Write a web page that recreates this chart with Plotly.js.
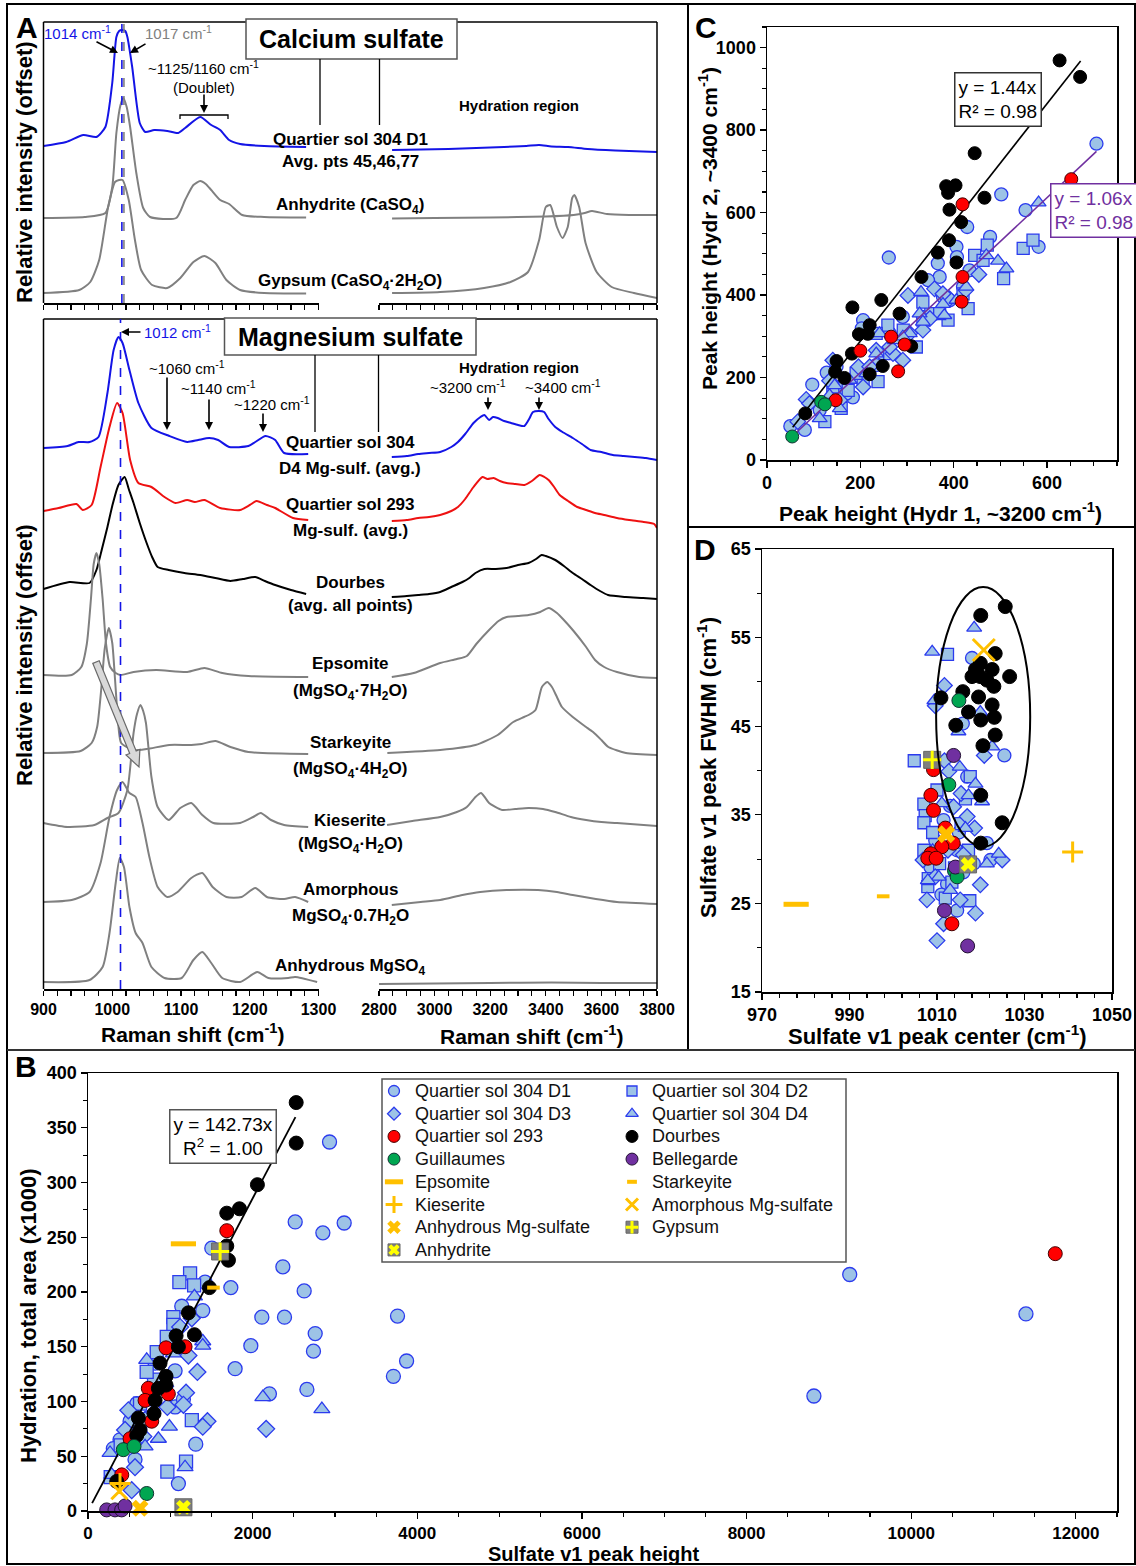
<!DOCTYPE html>
<html><head><meta charset="utf-8">
<script src="https://cdn.plot.ly/plotly-3.0.1.min.js"></script>
<style>html,body{margin:0;padding:0;background:#fff}</style>
</head><body>
<div id="chart" style="width:1136px;height:1566px"></div>
<script>
// ===================== DATA =====================
// Panel A (top): Calcium sulfate spectra [wavenumber, offset intensity]
const caD1_L=[[900,157],[933,161],[958,168],[977,166],[990,176],[1000,220],[1006,266],[1010,272],[1014,273],[1019,272],[1022,266],[1029,236],[1040,180],[1048,171],[1061,173],[1080,172],[1096,170],[1106,175],[1128,186],[1144,178],[1157,173],[1170,163],[1186,159],[1221,157],[1282,156]];
const caD1_R=[[2847,153],[2950,153.5],[3050,154],[3150,155],[3250,156],[3330,157],[3376,158],[3420,156.5],[3480,156],[3550,154],[3650,152.5],[3800,151]];
const caAnh_L=[[900,85],[960,86],[990,90],[1000,116],[1006,170],[1012,198],[1016,205],[1021,196],[1026,176],[1035,130],[1045,95],[1055,86],[1093,85],[1106,103],[1118,118],[1128,122],[1136,119],[1144,113],[1157,103],[1170,99],[1189,88],[1221,86],[1282,85.5]];
const caAnh_R=[[2847,84.5],[3000,85],[3200,85.5],[3400,86.5],[3500,88],[3540,90],[3566,92],[3620,89],[3700,88],[3800,88]];
const caGyp_L=[[900,10],[952,13],[968,21],[981,43],[994,96],[1004,121],[1010,123],[1015,123],[1024,103],[1033,63],[1042,33],[1058,18],[1080,15],[1099,25],[1118,41],[1134,47],[1150,40],[1166,23],[1186,13],[1221,10],[1282,9.5]];
const caGyp_R=[[2847,10],[3020,11],[3178,15],[3273,21],[3336,31],[3376,63],[3400,96],[3416,98],[3440,76],[3460,65],[3479,76],[3495,105],[3503,108],[3520,96],[3543,60],[3583,31],[3637,16],[3717,10],[3800,5]];
// Panel A (bottom): Magnesium sulfate spectra
const mgD4_L=[[900,541],[935,543],[951,547],[967,547],[980,552],[993,596],[1002,639],[1009,652],[1015,646],[1025,619],[1038,586],[1057,561],[1083,553],[1109,547],[1125,549],[1141,551],[1154,549],[1170,542],[1198,543],[1208,547],[1223,553],[1237,549],[1250,536],[1285,535]];
const mgD4_R=[[2846,532],[2900,533],[2941,535],[2980,536],[3020,537],[3060,542],[3084,547],[3110,555],[3140,566],[3165,572],[3179,574],[3196,569],[3210,572],[3227,571],[3250,568],[3275,566],[3300,564],[3323,563],[3340,570],[3354,577],[3375,578],[3394,577],[3410,570],[3434,562],[3460,557],[3497,551],[3530,545],[3561,539],[3600,537],[3641,534],[3680,533],[3720,532],[3760,531],[3800,529]];
const mg293_L=[[900,478],[922,481],[948,485],[957,479],[970,484],[983,522],[996,562],[1007,586],[1015,576],[1026,529],[1038,506],[1057,502],[1076,492],[1092,486],[1109,489],[1120,487],[1134,489],[1157,481],[1186,479],[1200,484],[1210,488],[1225,484],[1237,481],[1263,471],[1285,469]];
const mg293_R=[[2846,468],[2900,469],[2941,471],[2980,472],[3020,474],[3060,478],[3084,482],[3110,490],[3140,502],[3172,512],[3190,510],[3212,511],[3235,508],[3259,506],[3290,505],[3323,504],[3350,508],[3378,514],[3395,512],[3410,509],[3430,502],[3450,494],[3480,488],[3513,482],[3545,479],[3577,476],[3610,474],[3656,471],[3700,469],[3752,467],[3790,465],[3800,461]];
const mgDou_L=[[900,400],[938,407],[967,406],[977,419],[985,440],[993,462],[1000,483],[1009,504],[1018,512],[1024,500],[1031,486],[1040,466],[1050,446],[1058,432],[1066,422],[1082,419],[1105,416],[1128,414],[1150,411],[1172,408],[1190,410],[1208,412],[1222,408],[1237,404],[1260,399],[1282,395]];
const mgDou_R=[[2846,392],[2900,393],[2941,394],[2980,395],[3020,397],[3060,402],[3100,407],[3125,411],[3147,416],[3179,420],[3220,420],[3259,421],[3300,424],[3338,426],[3365,430],[3385,434],[3400,433],[3434,429],[3465,423],[3497,416],[3530,410],[3561,404],[3595,398],[3624,394],[3688,392],[3750,391],[3800,390]];
const mgEps_L=[[900,314],[941,314],[955,322],[963,345],[969,390],[973,425],[977,436],[981,425],[986,390],[991,345],[997,322],[1005,316],[1012,314],[1031,317],[1064,319],[1109,317],[1134,321],[1160,316],[1198,313],[1285,312]];
const mgEps_R=[[2846,312],[2925,316],[3020,326],[3080,330],[3116,333],[3150,345],[3196,359],[3230,368],[3259,372],[3300,373],[3338,374],[3380,377],[3410,381],[3440,376],[3465,369],[3500,358],[3545,342],[3577,329],[3610,322],[3656,317],[3736,312],[3800,311]];
const mgStk_L=[[900,236],[954,238],[970,246],[978,262],[984,300],[989,340],[995,361],[1000,346],[1004,310],[1008,272],[1013,246],[1031,239],[1050,240],[1083,244],[1115,244],[1130,245],[1150,248],[1172,242],[1198,237],[1285,235]];
const mgStk_R=[[2830,236],[3020,239],[3147,244],[3227,254],[3283,267],[3322,272],[3338,274],[3363,279],[3386,302],[3405,307],[3422,302],[3440,292],[3458,282],[3497,272],[3530,265],[3545,262],[3570,257],[3600,249],[3625,242],[3688,236],[3800,234]];
const mgKie_L=[[900,166],[935,162],[974,164],[993,171],[1009,176],[1022,199],[1031,256],[1036,275],[1041,284],[1045,278],[1049,266],[1057,212],[1066,182],[1082,169],[1099,181],[1115,186],[1131,174],[1147,166],[1186,166],[1205,172],[1216,176],[1231,169],[1250,164],[1285,162]];
const mgKie_R=[[2829,164],[2920,168],[3020,172],[3080,177],[3116,182],[3147,192],[3167,196],[3180,192],[3196,186],[3243,179],[3290,180],[3338,181],[3390,180],[3434,177],[3490,172],[3545,169],[3600,167],[3656,166],[3800,163]];
const mgAmo_L=[[900,87],[941,89],[967,97],[983,126],[996,172],[1007,199],[1015,207],[1025,196],[1034,192],[1044,166],[1054,132],[1066,102],[1080,92],[1095,97],[1115,111],[1131,116],[1146,102],[1166,92],[1188,92],[1208,101],[1225,92],[1250,90],[1266,92],[1285,87]];
const mgAmo_R=[[2846,84],[2950,87],[3020,89],[3100,94],[3164,97],[3259,99],[3372,99],[3440,97],[3497,94],[3580,90],[3656,87],[3800,85]];
const mgAnh_L=[[900,7],[967,9],[986,22],[996,56],[1005,106],[1011,131],[1017,122],[1025,82],[1034,56],[1044,46],[1057,22],[1076,11],[1101,11],[1118,29],[1131,37],[1144,26],[1160,11],[1186,7],[1211,17],[1227,11],[1256,11],[1266,12],[1298,7]];
const mgAnh_R=[[2800,5],[3000,5.5],[3200,6],[3420,6.5],[3600,6],[3800,6]];

// Panel C: Hydr1 peak height (x) vs Hydr2 peak height (y)
const C_D1_x=[706,502,554,582,429,261,478,366,406,370,345,407,206,203,128,97,184,50,81,163,263,334,377,249,149,234,113,170,291,391,420,434];
const C_D1_y=[767,644,606,517,565,491,541,477,517,444,436,492,339,319,212,183,152,82,73,177,307,347,396,258,226,230,121,161,347,387,420,460];
const C_D2_x=[549,570,507,472,445,431,388,351,334,259,320,238,206,159,124,263,292,174,141,191,234,334,370,420,463];
const C_D2_y=[513,533,440,521,496,367,339,355,383,327,274,190,194,125,93,258,315,169,177,210,307,339,355,403,484];
const C_D3_x=[454,426,359,302,141,84,134,196,270,334,391,66,234,291,206,377,91,156,220,263,306,349];
const C_D3_y=[450,412,415,399,242,147,192,226,258,315,391,93,266,242,177,403,137,145,226,274,307,343];
const C_D4_x=[582,495,513,470,377,330,327,241,145,113,156,306,274,380,213,134,177,234,291,334,406,427];
const C_D4_y=[624,483,464,496,378,407,355,307,181,101,125,307,290,351,210,157,194,258,299,335,388,420];
const C_Dou_x=[627,671,445,384,404,388,466,391,416,390,366,406,331,245,183,284,220,197,216,309,182,149,248,146,166,220,82];
const C_Dou_y=[969,929,744,664,666,648,636,607,577,533,503,479,444,388,370,355,327,305,306,276,258,240,228,214,199,208,113];
const C_Q293_x=[652,419,419,417,266,295,200,281,147];
const C_Q293_y=[681,620,444,384,299,280,265,215,145];
const C_Gui_x=[116,124,54];
const C_Gui_y=[141,135,57];
const C_fitSlopes=[1.44,1.06];
const C_fitRanges=[[55,672],[55,706]];

// Panel D: sulfate v1 peak center (x) vs FWHM (y)
const D_D1_x=[1018.0,1015.9,1025.4,1021.4,1022.2,1014.6,1011.5,1014.6,1016.9,1008.5,1012.3,1018.4,1009.6,1013.0,1015.0,1011.0,1016.0];
const D_D1_y=[52.7,45.3,41.7,31.8,29.9,24.2,34.4,31.0,39.3,29.1,27.2,29.5,32.1,36.0,33.0,26.0,28.5];
const D_D2_x=[1012.4,1004.8,1007.0,1007.3,1007.0,1007.0,1007.9,1017.6,1017.5,1010.6,1013.4,1011.9,1015.5,1010.0,1017.2,1009.0,1014.0,1008.0,1016.5];
const D_D2_y=[53.1,41.1,36.2,34.9,34.1,31.0,26.9,39.3,25.3,29.5,27.4,25.6,34.0,37.8,31.0,33.0,29.0,27.8,36.8];
const D_D3_x=[1011.7,1009.6,1020.8,1011.7,1012.7,1015.5,1016.9,1018.6,1019.9,1018.8,1010.0,1011.5,1007.7,1006.8,1024.9,1015.3,1013.8,1009.6,1012.5,1016.0];
const D_D3_y=[49.6,47.3,41.7,41.1,39.9,37.4,34.8,33.5,27.1,23.9,20.8,22.7,25.4,29.9,29.9,25.4,35.9,28.0,31.0,30.5];
const D_D4_x=[1008.9,1018.5,1009.4,1014.9,1019.9,1022.6,1015.2,1018.8,1017.2,1020.3,1024.1,1021.4,1010.4,1013.0,1007.9,1014.2,1011.1,1016.5,1009.0];
const D_D4_y=[53.4,56.1,47.9,44.4,46.6,42.7,40.4,38.5,37.2,36.5,30.6,29.5,28.0,26.5,27.6,31.6,36.3,33.5,31.0];
const D_Dou_x=[1025.6,1020.0,1023.3,1026.6,1018.8,1019.9,1022.6,1021.4,1018.0,1019.9,1023.0,1015.9,1019.5,1010.9,1017.2,1022.6,1020.0,1023.1,1014.3,1023.3,1020.5,1020.0,1024.9,1020.0];
const D_Dou_y=[58.5,57.5,53.2,50.6,51.4,50.6,51.4,50.2,50.6,52.1,49.5,48.9,48.3,48.2,46.6,47.4,45.7,46.0,45.1,44.0,42.8,37.2,34.1,31.8];
const D_Q293_x=[1009.2,1008.6,1009.2,1011.9,1013.7,1011.1,1008.6,1007.9,1009.8,1013.4];
const D_Q293_y=[40.1,37.2,35.5,33.5,31.8,31.4,30.6,30.1,30.1,22.7];
const D_Gui_x=[1015.0,1012.7,1014.0,1014.6];
const D_Gui_y=[47.9,38.4,28.7,28.0];
const D_Bel_x=[1013.8,1011.7,1014.2,1017.0];
const D_Bel_y=[41.7,24.2,29.1,20.2];
// reference minerals in D: [center, FWHM]
const D_ref={EPS:[977.8,24.9],STK:[997.7,25.8],KIE:[1041.0,30.8],AMO:[1020.7,53.6],ANH:[1012.1,32.8],GYP:[1008.9,41.2],ANY:[1017.1,29.4]};
const D_ellipse=[1009.8,1031.3,31.4,60.7];

// Panel B: sulfate v1 peak height (x) vs hydration total area x1000 (y)
const B_D1_x=[2934,2517,2853,3112,2367,2626,1735,2112,2387,1978,2760,2739,1787,2659,2204,3760,3710,3870,1504,1422,1394,1139,1058,1058,1309,1098,592,511,389,308,571,815,896,1159,733,9253,8818,11394];
const B_D1_y=[337,264,254,263,223,201,204,177,177,151,162,146,130,111,107,178,123,137,240,209,183,187,128,95,61,25,98,82,65,57,47,135,115,102,85,216,105,180];
const B_D2_x=[1240,1110,1289,1037,1037,957,835,802,632,1261,1191,964,397,276,632,754,713];
const B_D2_y=[217,209,206,177,170,159,145,120,98,83,45,36,60,31,75,102,127];
const B_D3_x=[1220,1329,1191,1159,964,1451,1394,2164,531,450,571,693,936,1119,1261,490,672];
const B_D3_y=[142,127,108,97,95,82,77,75,19,74,40,83,114,168,176,92,68];
const B_D4_x=[1293,1394,1394,2124,2841,989,855,1179,693,268,713,1037,288];
const B_D4_y=[196,155,151,104,93,77,66,40,59,53,138,144,33];
const B_Dou_x=[2529,2529,2058,1686,1840,1686,1706,1475,1220,1293,1070,1098,875,948,948,855,815,802,612,632,592,349];
const B_Dou_y=[373,336,298,272,276,242,229,204,181,161,160,150,135,123,115,112,101,89,85,74,69,27];
const B_Q293_x=[1686,948,1179,733,693,976,774,511,410,11750];
const B_Q293_y=[256,149,150,112,101,107,82,66,33,235];
const B_Gui_x=[429,559,713];
const B_Gui_y=[56,59,16];
const B_Bel_x=[227,328,409,450];
const B_Bel_y=[1,1,1,4.6];
const B_ref={EPS:[1159,244],STK:[1524,204],KIE:[389,25],AMO:[381,18],ANH:[632,2.5],GYP:[1605,237],ANY:[1159,3.4]};
const B_fitSlope=0.14273;
const B_fitRange=[50,2520];

// ===================== DRAWING =====================
const W=1136,H=1566;
const px=x=>x/W, py=y=>1-y/H;
const FONT='Liberation Sans, Arial, Helvetica, sans-serif';
const BLUE='#1414E6', RED='#EE1111', GRAY='#808080', PURPLE='#7030A0', ORANGE='#FFC000';

const traces=[];
function spec(pts,xa,ya,color){
  traces.push({type:'scatter',mode:'lines',x:pts.map(p=>p[0]),y:pts.map(p=>p[1]),xaxis:xa,yaxis:ya,
    line:{color:color,width:2,shape:'spline',smoothing:0.6},hoverinfo:'skip',showlegend:false});
}
[[caD1_L,caD1_R,BLUE],[caAnh_L,caAnh_R,GRAY],[caGyp_L,caGyp_R,GRAY]].forEach(s=>{spec(s[0],'x','y',s[2]);spec(s[1],'x2','y',s[2]);});
[[mgD4_L,mgD4_R,BLUE],[mg293_L,mg293_R,RED],[mgDou_L,mgDou_R,'#000'],[mgEps_L,mgEps_R,GRAY],[mgStk_L,mgStk_R,GRAY],
 [mgKie_L,mgKie_R,GRAY],[mgAmo_L,mgAmo_R,GRAY],[mgAnh_L,mgAnh_R,GRAY]].forEach(s=>{spec(s[0],'x3','y3',s[2]);spec(s[1],'x4','y3',s[2]);});

const LB={color:'#2B3BEE',width:1.3};
const ST={
 D1:{symbol:'circle',color:'#9DC3E6',line:LB,s:13},
 D2:{symbol:'square',color:'#9DC3E6',line:LB,s:13},
 D3:{symbol:'diamond',color:'#9DC3E6',line:LB,s:13},
 D4:{symbol:'triangle-up',color:'#9DC3E6',line:LB,s:13},
 Q293:{symbol:'circle',color:'#FF0000',line:{color:'#400',width:1},s:14},
 Dou:{symbol:'circle',color:'#000',line:{color:'#000',width:1},s:14},
 Gui:{symbol:'circle',color:'#00A651',line:{color:'#133',width:1},s:14},
 Bel:{symbol:'circle',color:'#7030A0',line:{color:'#213',width:1},s:14},
 EPS:{symbol:'line-ew',color:ORANGE,line:{color:ORANGE,width:5},s:18},
 STK:{symbol:'line-ew',color:ORANGE,line:{color:ORANGE,width:4},s:9},
 KIE:{symbol:'cross-thin',color:ORANGE,line:{color:ORANGE,width:3},s:15},
 AMO:{symbol:'x-thin',color:ORANGE,line:{color:ORANGE,width:3},s:16},
 ANH:{symbol:'x',color:ORANGE,line:{color:ORANGE,width:0},s:15},
 GYPbg:{symbol:'square',color:'#7F7F7F',line:{color:'#666',width:1},s:17},
 GYP:{symbol:'cross-thin',color:'#FFFF00',line:{color:'#FFFF00',width:3},s:13},
 ANYbg:{symbol:'square',color:'#7F7F7F',line:{color:'#666',width:1},s:17},
 ANY:{symbol:'x',color:'#FFFF00',line:{color:'#FFFF00',width:0},s:13}
};
function mk(k,size){const s=ST[k];return {symbol:s.symbol,color:s.color,line:s.line,size:size||s.s};}
function sc(xs,ys,xa,ya,k,size){
  traces.push({type:'scatter',mode:'markers',x:xs,y:ys,xaxis:xa,yaxis:ya,marker:mk(k,size),
    hoverinfo:'skip',showlegend:false,cliponaxis:false});
}

// Panel C
sc(C_D1_x,C_D1_y,'x5','y5','D1',13); sc(C_D2_x,C_D2_y,'x5','y5','D2',12);
sc(C_D3_x,C_D3_y,'x5','y5','D3',12); sc(C_D4_x,C_D4_y,'x5','y5','D4',13);
C_fitSlopes.forEach((m,i)=>{
  traces.push({type:'scatter',mode:'lines',x:C_fitRanges[i],y:C_fitRanges[i].map(v=>v*m),xaxis:'x5',yaxis:'y5',
    line:{color:i===0?'#000':PURPLE,width:1.6},hoverinfo:'skip',showlegend:false});
});
sc(C_Dou_x,C_Dou_y,'x5','y5','Dou',13); sc(C_Q293_x,C_Q293_y,'x5','y5','Q293',13); sc(C_Gui_x,C_Gui_y,'x5','y5','Gui',13);

// Panel D
sc(D_D1_x,D_D1_y,'x6','y6','D1',13); sc(D_D2_x,D_D2_y,'x6','y6','D2',12);
sc(D_D3_x,D_D3_y,'x6','y6','D3',12); sc(D_D4_x,D_D4_y,'x6','y6','D4',13);
sc(D_Dou_x,D_Dou_y,'x6','y6','Dou',14); sc(D_Q293_x,D_Q293_y,'x6','y6','Q293',14);
sc(D_Gui_x,D_Gui_y,'x6','y6','Gui',14); sc(D_Bel_x,D_Bel_y,'x6','y6','Bel',14);
const refSizeD={EPS:18,STK:9,KIE:15,AMO:22,ANH:16,GYPbg:17,GYP:13,ANYbg:17,ANY:13};
['EPS','STK','KIE','AMO','ANH'].forEach(k=>sc([D_ref[k][0]],[D_ref[k][1]],'x6','y6',k,refSizeD[k]));
sc([D_ref.GYP[0]],[D_ref.GYP[1]],'x6','y6','GYPbg'); sc([D_ref.GYP[0]],[D_ref.GYP[1]],'x6','y6','GYP');
sc([D_ref.ANY[0]],[D_ref.ANY[1]],'x6','y6','ANYbg'); sc([D_ref.ANY[0]],[D_ref.ANY[1]],'x6','y6','ANY');

// Panel B
sc(B_D1_x,B_D1_y,'x7','y7','D1',14); sc(B_D2_x,B_D2_y,'x7','y7','D2',13);
sc(B_D3_x,B_D3_y,'x7','y7','D3',13); sc(B_D4_x,B_D4_y,'x7','y7','D4',14);
traces.push({type:'scatter',mode:'lines',x:B_fitRange,y:B_fitRange.map(v=>v*B_fitSlope),xaxis:'x7',yaxis:'y7',
  line:{color:'#000',width:1.8},hoverinfo:'skip',showlegend:false});
sc(B_Q293_x,B_Q293_y,'x7','y7','Q293',14); sc(B_Dou_x,B_Dou_y,'x7','y7','Dou',14);
sc(B_Gui_x,B_Gui_y,'x7','y7','Gui',14); sc(B_Bel_x,B_Bel_y,'x7','y7','Bel',14);
['EPS','STK','KIE','AMO','ANH'].forEach(k=>sc([B_ref[k][0]],[B_ref[k][1]],'x7','y7',k));
sc([B_ref.GYP[0]],[B_ref.GYP[1]],'x7','y7','GYPbg'); sc([B_ref.GYP[0]],[B_ref.GYP[1]],'x7','y7','GYP');
sc([B_ref.ANY[0]],[B_ref.ANY[1]],'x7','y7','ANYbg'); sc([B_ref.ANY[0]],[B_ref.ANY[1]],'x7','y7','ANY');

// Legend (panel B) drawn on a pixel overlay axis
const legendItems=[
 ['D1','Quartier sol 304 D1'],['D3','Quartier sol 304 D3'],['Q293','Quartier sol 293'],['Gui','Guillaumes'],
 ['EPS','Epsomite'],['KIE','Kieserite'],['ANH','Anhydrous Mg-sulfate'],['ANY','Anhydrite'],
 ['D2','Quartier sol 304 D2'],['D4','Quartier sol 304 D4'],['Dou','Dourbes'],['Bel','Bellegarde'],
 ['STK','Starkeyite'],['AMO','Amorphous Mg-sulfate'],['GYP','Gypsum']];
const legSize={D1:11,D2:10,D3:10,D4:11,Q293:12,Dou:12,Gui:12,Bel:12,EPS:13,STK:7,KIE:12,AMO:12,ANH:12,GYPbg:12,GYP:9,ANYbg:12,ANY:10};
const legAnn=[];
legendItems.forEach((it,i)=>{
  const col=i<8?0:1,row=i<8?i:i-8;
  const mx=col===0?394:632, ty=1091+row*22.7, tx=col===0?413:650;
  if(it[0]==='GYP'||it[0]==='ANY') sc([mx],[ty],'x8','y8',it[0]+'bg',legSize[it[0]+'bg']);
  sc([mx],[ty],'x8','y8',it[0],legSize[it[0]]);
  legAnn.push({xref:'paper',yref:'paper',x:px(tx),y:py(ty),text:it[1],showarrow:false,xanchor:'left',yanchor:'middle',
    font:{family:FONT,size:18,color:'#111'}});
});

// ---------- axes ----------
function ax(o){return Object.assign({showgrid:false,zeroline:false,showline:true,linecolor:'#000',linewidth:1.5,
  ticks:'outside',tickcolor:'#000',tickwidth:1.3,ticklen:6,fixedrange:true,exponentformat:'none',separatethousands:false,
  tickfont:{family:FONT,size:18,color:'#000',weight:'bold'}},o);}
function mn(t0,dt,len){return {tick0:t0,dtick:dt,ticks:'outside',ticklen:len||4,tickcolor:'#000',tickwidth:1.1,showgrid:false};}
const tfA={family:FONT,size:16,color:'#000',weight:'bold'};
const layout={
 width:W,height:H,margin:{l:0,r:0,t:0,b:0,pad:0},paper_bgcolor:'#fff',plot_bgcolor:'rgba(0,0,0,0)',showlegend:false,
 font:{family:FONT,color:'#000'},
 xaxis:ax({domain:[px(43.5),px(318.5)],range:[900,1300],anchor:'y',tick0:900,dtick:100,ticklen:5,showticklabels:false,minor:mn(900,20,5)}),
 xaxis2:ax({domain:[px(379),px(657)],range:[2800,3800],anchor:'y',tick0:2800,dtick:200,ticklen:5,showticklabels:false,minor:mn(2800,50,5)}),
 yaxis:{domain:[py(303),py(22)],range:[0,281],visible:false,fixedrange:true,anchor:'x'},
 xaxis3:ax({domain:[px(43.5),px(318.5)],range:[900,1300],anchor:'y3',tick0:900,dtick:100,ticklen:5,tickfont:tfA,minor:mn(900,20,5)}),
 xaxis4:ax({domain:[px(379),px(657)],range:[2800,3800],anchor:'y3',tick0:2800,dtick:200,ticklen:5,tickfont:tfA,minor:mn(2800,50,5)}),
 yaxis3:{domain:[py(989),py(319)],range:[0,670],visible:false,fixedrange:true,anchor:'x3'},
 xaxis5:ax({domain:[px(767),px(1117)],range:[0,750],anchor:'y5',tick0:0,dtick:200,mirror:true,minor:mn(0,50)}),
 yaxis5:ax({domain:[py(460),py(27)],range:[0,1050],anchor:'x5',tick0:0,dtick:200,mirror:true,minor:mn(0,50)}),
 xaxis6:ax({domain:[px(762),px(1112)],range:[970,1050],anchor:'y6',tick0:970,dtick:20,mirror:true,minor:mn(970,4)}),
 yaxis6:ax({domain:[py(992),py(549)],range:[15,65],anchor:'x6',tick0:15,dtick:10,mirror:true,minor:mn(15,5)}),
 xaxis7:ax({domain:[px(88),px(1117)],range:[0,12500],anchor:'y7',tick0:0,dtick:2000,mirror:true,minor:mn(0,500),tickformat:'d',
   tickfont:{family:FONT,size:17,color:'#000',weight:'bold'}}),
 yaxis7:ax({domain:[py(1511),py(1073)],range:[0,400],anchor:'x7',tick0:0,dtick:50,mirror:true,minor:mn(0,25)}),
 xaxis8:{domain:[0,1],range:[0,W],visible:false,fixedrange:true,anchor:'y8'},
 yaxis8:{domain:[0,1],range:[H,0],visible:false,fixedrange:true,anchor:'x8'}
};

// ---------- shapes ----------
function ln(x0,y0,x1,y1,c,w,d){return {type:'line',xref:'paper',yref:'paper',x0:px(x0),y0:py(y0),x1:px(x1),y1:py(y1),line:{color:c||'#000',width:w||1.5,dash:d||'solid'}};}
function rc(x0,y0,x1,y1,c,w,fill){return {type:'rect',xref:'paper',yref:'paper',x0:px(x0),y0:py(y0),x1:px(x1),y1:py(y1),line:{color:c||'#000',width:w||1.5},fillcolor:fill||'rgba(0,0,0,0)'};}
function fatArrow(t,h,sw,hw,hl){
  const dx=h[0]-t[0],dy=h[1]-t[1],L=Math.hypot(dx,dy),u=[dx/L,dy/L],n=[-u[1],u[0]];
  const b=[h[0]-u[0]*hl,h[1]-u[1]*hl];
  const P=[[t[0]+n[0]*sw,t[1]+n[1]*sw],[b[0]+n[0]*sw,b[1]+n[1]*sw],[b[0]+n[0]*hw,b[1]+n[1]*hw],h,
           [b[0]-n[0]*hw,b[1]-n[1]*hw],[b[0]-n[0]*sw,b[1]-n[1]*sw],[t[0]-n[0]*sw,t[1]-n[1]*sw]];
  return {type:'path',xref:'paper',yref:'paper',path:'M'+P.map(p=>px(p[0])+','+py(p[1])).join(' L')+' Z',
    fillcolor:'#D9D9D9',line:{color:'#6a6a6a',width:1.2}};
}
const shapes=[
 // panel borders
 rc(7,4,1135,1564,'#000',2), ln(688,4,688,1050,'#000',2), ln(688,527,1135,527,'#000',2), ln(7,1050,1135,1050,'#333',2),
 // A frames
 ln(43.5,22,657,22), ln(43.5,22,43.5,303), ln(657,22,657,303),
 ln(43.5,319,657,319), ln(43.5,319,43.5,989), ln(657,319,657,989),
 // dashed markers
 {type:'line',xref:'x',yref:'y',x0:1014,x1:1014,y0:0,y1:281,line:{color:BLUE,width:1.6,dash:'dash'}},
 {type:'line',xref:'x',yref:'y',x0:1017,x1:1017,y0:0,y1:281,line:{color:GRAY,width:1.6,dash:'dash'}},
 {type:'line',xref:'x3',yref:'y3',x0:1012,x1:1012,y0:0,y1:670,line:{color:BLUE,width:1.6,dash:'dash'}},
 // title boxes + break lines
 rc(246,19,457,59,'#555',1.5,'#fff'), ln(320,59,320,125,'#000',1.3), ln(379.5,59,379.5,125,'#000',1.3),
 rc(224.5,318,476,355,'#555',1.5,'#fff'), ln(315,355,315,432,'#000',1.3), ln(378.5,355,378.5,432,'#000',1.3),
 // doublet bracket
 {type:'path',xref:'paper',yref:'paper',path:`M${px(180)},${py(119)} L${px(180)},${py(115)} L${px(228)},${py(115)} L${px(228)},${py(119)}`,line:{color:'#000',width:1.3}},
 // gray shift arrow
 fatArrow([96,662],[139,767],3.5,7.5,16),
 // ellipse D
 {type:'circle',xref:'x6',yref:'y6',x0:D_ellipse[0],x1:D_ellipse[1],y0:D_ellipse[2],y1:D_ellipse[3],line:{color:'#000',width:2}},
 // legend box
 rc(382,1079,846,1262,'#555',1.5)
];

// ---------- annotations ----------
function an(x,y,text,o){o=o||{};return Object.assign({xref:'paper',yref:'paper',x:px(x),y:py(y),text:text,showarrow:false,
  xanchor:o.xa||'center',yanchor:'middle',font:{family:FONT,size:o.size||17,color:o.color||'#000'}},o.extra||{});}
function ar(hx,hy,dx,dy,c){return {xref:'paper',yref:'paper',x:px(hx),y:py(hy),ax:dx,ay:dy,text:'',showarrow:true,
  arrowhead:2,arrowsize:1,arrowwidth:1.6,arrowcolor:c||'#000'};}
const B=t=>'<b>'+t+'</b>';
const rot={textangle:-90};
const annotations=[
 an(27,27,B('A'),{size:30}), an(706,27,B('C'),{size:30}), an(705,550,B('D'),{size:30}), an(26,1066,B('B'),{size:30}),
 // Panel A top
 an(24,172,B('Relative intensity (offset)'),{size:22,extra:rot}),
 an(24,655,B('Relative intensity (offset)'),{size:22,extra:rot}),
 an(113,33,'1014 cm<sup>-1</sup>',{size:15,color:BLUE,xa:'right'}),
 an(143,33,'1017 cm<sup>-1</sup>',{size:15,color:GRAY,xa:'left'}),
 ar(118,53,-23,-12), ar(130,53,17,-10),
 an(203,68,'~1125/1160 cm<sup>-1</sup>',{size:15}), an(204,87,'(Doublet)',{size:15}), ar(204,113,0,-20),
 an(351,39,B('Calcium sulfate'),{size:25}),
 an(519,106,B('Hydration region'),{size:15}),
 an(350,139,B('Quartier sol 304 D1')), an(350,161,B('Avg. pts 45,46,77')),
 an(350,206,B('Anhydrite (CaSO<sub>4</sub>)')), an(350,282,B('Gypsum (CaSO<sub>4</sub>·2H<sub>2</sub>O)')),
 // Panel A bottom
 ar(121,332,21,0), an(142,332,'1012 cm<sup>-1</sup>',{size:15,color:BLUE,xa:'left'}),
 an(350,337,B('Magnesium sulfate'),{size:25}),
 an(187,367,'~1060 cm<sup>-1</sup>',{size:15}), ar(167,430,0,-54),
 an(218,388,'~1140 cm<sup>-1</sup>',{size:15}), ar(209,430,0,-32),
 an(272,403,'~1220 cm<sup>-1</sup>',{size:15}), ar(263,432,0,-20),
 an(519,367,B('Hydration region'),{size:15}),
 an(468,387,'~3200 cm<sup>-1</sup>',{size:15}), ar(488,410,0,-14),
 an(563,387,'~3400 cm<sup>-1</sup>',{size:15}), ar(539,410,0,-14),
 an(350,443,B('Quartier sol 304')), an(350,469,B('D4 Mg-sulf. (avg.)')),
 an(350,504,B('Quartier sol 293')), an(350,530,B('Mg-sulf. (avg.)')),
 an(350,582,B('Dourbes')), an(350,606,B('(avg. all points)')),
 an(350,663,B('Epsomite')), an(350,692,B('(MgSO<sub>4</sub>·7H<sub>2</sub>O)')),
 an(350,743,B('Starkeyite')), an(350,770,B('(MgSO<sub>4</sub>·4H<sub>2</sub>O)')),
 an(350,820,B('Kieserite')), an(350,845,B('(MgSO<sub>4</sub>·H<sub>2</sub>O)')),
 an(350,890,B('Amorphous')), an(350,917,B('MgSO<sub>4</sub>·0.7H<sub>2</sub>O')),
 an(350,967,B('Anhydrous MgSO<sub>4</sub>')),
 an(192,1033,B('Raman shift (cm<sup>-1</sup>)'),{size:21}), an(531,1035,B('Raman shift (cm<sup>-1</sup>)'),{size:21}),
 // Panel C
 an(940,512,B('Peak height (Hydr 1, ~3200 cm<sup>-1</sup>)'),{size:21}),
 an(708,228,B('Peak height (Hydr 2, ~3400 cm<sup>-1</sup>)'),{size:21,extra:rot}),
 an(998,100,'y = 1.44x<br>R² = 0.98',{size:19,extra:{bordercolor:'#333',borderwidth:1.5,bgcolor:'#fff',borderpad:3,align:'left'}}),
 an(1094,211,'y = 1.06x<br>R² = 0.98',{size:19,color:PURPLE,extra:{bordercolor:PURPLE,borderwidth:1.5,bgcolor:'#fff',borderpad:3,align:'left'}}),
 // Panel D
 an(937,1035,B('Sulfate v1 peak center (cm<sup>-1</sup>)'),{size:22}),
 an(707,768,B('Sulfate v1 peak FWHM (cm<sup>-1</sup>)'),{size:22,extra:rot}),
 // Panel B
 an(594,1554,B('Sulfate v1 peak height'),{size:20}),
 an(28,1316,B('Hydration, total area (x1000)'),{size:22,extra:rot}),
 an(223,1136,'y = 142.73x<br>R<sup>2</sup> = 1.00',{size:19,extra:{bordercolor:'#555',borderwidth:1.5,bgcolor:'#fff',borderpad:3}})
].concat(legAnn);

layout.shapes=shapes;
layout.annotations=annotations;
Plotly.newPlot('chart',traces,layout,{staticPlot:true,displayModeBar:false});
</script>
</body></html>
